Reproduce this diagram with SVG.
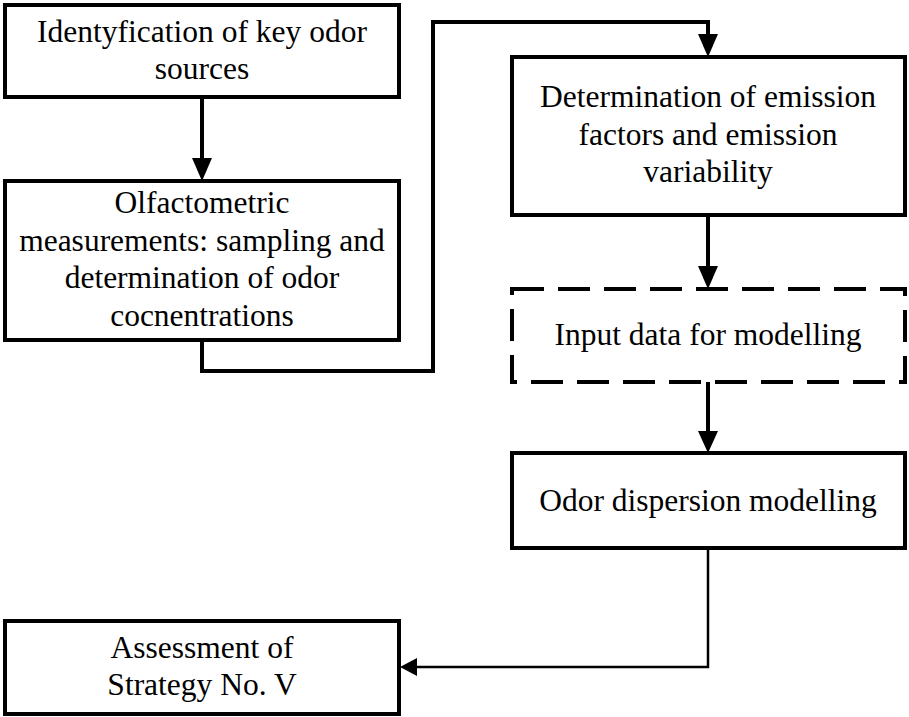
<svg xmlns="http://www.w3.org/2000/svg" width="909" height="717" viewBox="0 0 909 717">
  <style>
    .box { fill: #ffffff; stroke: #000000; stroke-width: 4; }
    .dashed { stroke-dasharray: 32 14; }
    .label { font-family: "Liberation Serif", "Times New Roman", serif; font-size: 31.5px; fill: #000000; text-anchor: middle; }
    .wire { fill: none; stroke: #000000; stroke-width: 4; }
    .wire.thin { stroke-width: 2.5; }
    .head { fill: #000000; stroke: none; }
  </style>
  <rect width="909" height="717" fill="#ffffff"/>

  <!-- connectors -->
  <g id="connectors">
    <line class="wire" x1="202" y1="97" x2="202" y2="160"/>
    <polygon class="head" points="192,158 212,158 202,181"/>

    <polyline class="wire" points="202,340 202,371 433,371 433,22 708,22 708,36"/>
    <polygon class="head" points="698,34 718,34 708,57"/>

    <line class="wire" x1="708" y1="215" x2="708" y2="268"/>
    <polygon class="head" points="698,266 718,266 708,289"/>

    <line class="wire" x1="708" y1="382" x2="708" y2="433"/>
    <polygon class="head" points="698,431 718,431 708,453"/>

    <polyline class="wire thin" points="708,548 708,667 415,667"/>
    <polygon class="head" points="417,658 417,676 400,667"/>
  </g>

  <!-- nodes -->
  <g id="node-sources">
    <rect class="box" x="5" y="5" width="394" height="92"/>
    <text class="label" x="202" y="42">Identyfication of key odor</text>
    <text class="label" x="202" y="79">sources</text>
  </g>

  <g id="node-olfactometry">
    <rect class="box" x="5" y="181" width="394" height="159"/>
    <text class="label" x="202" y="213">Olfactometric</text>
    <text class="label" x="202" y="251">measurements: sampling and</text>
    <text class="label" x="202" y="288">determination of odor</text>
    <text class="label" x="202" y="326">cocnentrations</text>
  </g>

  <g id="node-emission">
    <rect class="box" x="512" y="57" width="393" height="158"/>
    <text class="label" x="708" y="107">Determination of emission</text>
    <text class="label" x="708" y="145">factors and emission</text>
    <text class="label" x="708" y="182">variability</text>
  </g>

  <g id="node-input">
    <rect class="box dashed" x="512" y="289" width="393" height="93"/>
    <text class="label" x="708" y="345">Input data for modelling</text>
  </g>

  <g id="node-dispersion">
    <rect class="box" x="512" y="453" width="393" height="95"/>
    <text class="label" x="708" y="511">Odor dispersion modelling</text>
  </g>

  <g id="node-assessment">
    <rect class="box" x="5" y="621" width="394" height="93"/>
    <text class="label" x="202" y="658">Assessment of</text>
    <text class="label" x="202" y="695">Strategy No. V</text>
  </g>
</svg>
